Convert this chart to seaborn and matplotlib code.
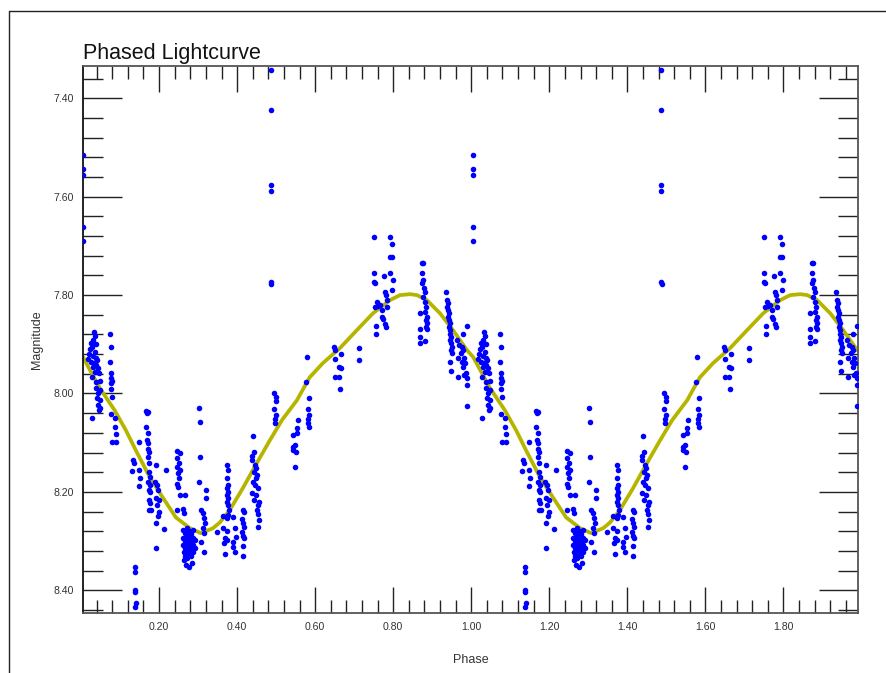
import numpy as np
import pandas as pd
import matplotlib
matplotlib.use("Agg")
import matplotlib.pyplot as plt
from matplotlib.ticker import FixedLocator, FixedFormatter, MultipleLocator
from matplotlib.lines import Line2D
import seaborn as sns

# Folded observations, one cycle: (phase, magnitude)
obs_spikes = [
    (0.005, 7.515), (0.005, 7.544), (0.005, 7.556), (0.005, 7.662), (0.005, 7.690),
    (0.487, 7.342), (0.487, 7.424), (0.487, 7.576), (0.487, 7.589), (0.487, 7.774), (0.488, 7.778),
]
obs_early = [
    (0.033, 7.875), (0.035, 7.884), (0.030, 7.892), (0.025, 7.898), (0.038, 7.900),
    (0.027, 7.906), (0.022, 7.910), (0.035, 7.916), (0.020, 7.920), (0.030, 7.924),
    (0.038, 7.928), (0.018, 7.930), (0.040, 7.932), (0.025, 7.936), (0.033, 7.938),
    (0.038, 7.942), (0.030, 7.946), (0.043, 7.948), (0.035, 7.957), (0.045, 7.959),
    (0.027, 7.967), (0.048, 7.975), (0.038, 7.977), (0.038, 7.989), (0.048, 7.993),
    (0.043, 7.999), (0.040, 8.010), (0.048, 8.014), (0.043, 8.024), (0.048, 8.030),
    (0.045, 8.034), (0.027, 8.050),
    (0.074, 7.880), (0.076, 7.906), (0.074, 7.936), (0.076, 7.959), (0.076, 7.969),
    (0.079, 7.975), (0.076, 7.979), (0.076, 7.991), (0.079, 8.007), (0.076, 8.042),
    (0.086, 8.050), (0.086, 8.068), (0.089, 8.083), (0.079, 8.099), (0.089, 8.099),
]
obs_descent = [
    (0.148, 8.099), (0.133, 8.135), (0.135, 8.142), (0.130, 8.158), (0.148, 8.156),
    (0.151, 8.172), (0.148, 8.188),
    (0.138, 8.353), (0.138, 8.363), (0.138, 8.400), (0.138, 8.404), (0.140, 8.426), (0.138, 8.434),
    (0.166, 8.036), (0.171, 8.038), (0.168, 8.040), (0.166, 8.068), (0.171, 8.081),
    (0.168, 8.095), (0.171, 8.101), (0.171, 8.113), (0.174, 8.119), (0.171, 8.129),
    (0.174, 8.142), (0.174, 8.160), (0.176, 8.170), (0.171, 8.180), (0.176, 8.186),
    (0.174, 8.197), (0.176, 8.201), (0.174, 8.217), (0.176, 8.223), (0.174, 8.237),
    (0.179, 8.237),
    (0.192, 8.146), (0.218, 8.156), (0.189, 8.180), (0.194, 8.186), (0.197, 8.197),
    (0.192, 8.213), (0.199, 8.217), (0.194, 8.227), (0.199, 8.241), (0.197, 8.249),
    (0.192, 8.264), (0.212, 8.276), (0.192, 8.315),
    (0.245, 8.117), (0.253, 8.121), (0.245, 8.131), (0.250, 8.142), (0.245, 8.150),
    (0.253, 8.156), (0.248, 8.162), (0.250, 8.172), (0.245, 8.184), (0.248, 8.190),
    (0.253, 8.207), (0.266, 8.207), (0.245, 8.237), (0.261, 8.235), (0.263, 8.243),
]
obs_minimum = [
    (0.261, 8.278), (0.261, 8.294), (0.261, 8.308), (0.263, 8.323), (0.263, 8.339),
    (0.266, 8.284), (0.266, 8.300), (0.266, 8.315), (0.266, 8.331), (0.268, 8.349),
    (0.271, 8.274), (0.271, 8.290), (0.271, 8.306), (0.271, 8.321), (0.271, 8.335),
    (0.276, 8.280), (0.276, 8.296), (0.276, 8.310), (0.276, 8.325), (0.276, 8.353),
    (0.281, 8.286), (0.281, 8.300), (0.281, 8.317), (0.281, 8.331), (0.284, 8.345),
    (0.286, 8.278), (0.286, 8.294), (0.286, 8.308), (0.286, 8.323),
    (0.292, 8.298), (0.292, 8.315),
    (0.302, 8.030), (0.304, 8.058), (0.304, 8.129), (0.302, 8.180), (0.320, 8.197),
    (0.320, 8.213), (0.307, 8.237), (0.312, 8.243), (0.315, 8.254), (0.317, 8.264),
    (0.312, 8.274), (0.315, 8.284), (0.307, 8.302), (0.315, 8.323),
]
obs_rise = [
    (0.348, 8.282), (0.363, 8.249), (0.363, 8.274), (0.368, 8.294), (0.366, 8.304),
    (0.373, 8.298), (0.368, 8.327), (0.373, 8.280),
    (0.373, 8.146), (0.376, 8.156), (0.373, 8.172), (0.376, 8.186), (0.373, 8.192),
    (0.376, 8.201), (0.373, 8.207), (0.376, 8.213), (0.373, 8.221), (0.376, 8.227),
    (0.378, 8.237), (0.376, 8.247), (0.373, 8.254),
    (0.389, 8.252), (0.394, 8.274), (0.397, 8.292), (0.389, 8.302), (0.389, 8.312), (0.394, 8.323),
    (0.415, 8.237), (0.417, 8.241), (0.412, 8.256), (0.415, 8.264), (0.417, 8.272),
    (0.412, 8.282), (0.415, 8.290), (0.417, 8.294), (0.415, 8.310), (0.415, 8.331),
    (0.441, 8.087), (0.443, 8.119), (0.438, 8.127), (0.438, 8.135), (0.445, 8.146),
    (0.448, 8.152), (0.443, 8.160), (0.451, 8.166), (0.448, 8.172), (0.441, 8.180),
    (0.445, 8.186), (0.453, 8.192), (0.438, 8.203), (0.448, 8.207), (0.443, 8.217),
    (0.456, 8.221), (0.453, 8.227), (0.451, 8.237), (0.453, 8.245), (0.456, 8.258),
    (0.453, 8.272),
    (0.494, 7.999), (0.499, 8.007), (0.499, 8.016), (0.494, 8.032), (0.499, 8.044),
    (0.497, 8.052), (0.497, 8.060),
    (0.556, 8.054), (0.553, 8.071), (0.543, 8.085), (0.553, 8.081), (0.548, 8.105),
    (0.543, 8.109), (0.543, 8.115), (0.551, 8.119), (0.548, 8.150),
    (0.579, 7.926), (0.577, 7.977), (0.584, 8.010), (0.581, 8.032), (0.584, 8.044),
    (0.581, 8.052), (0.581, 8.060), (0.584, 8.068),
]
obs_maximum = [
    (0.648, 7.906), (0.650, 7.912), (0.650, 7.930), (0.650, 7.967), (0.661, 7.967),
    (0.663, 7.991), (0.661, 7.946), (0.666, 7.920), (0.666, 7.948),
    (0.712, 7.908), (0.712, 7.932),
    (0.751, 7.682), (0.751, 7.755), (0.751, 7.774), (0.753, 7.776), (0.776, 7.761),
    (0.779, 7.794), (0.781, 7.800), (0.784, 7.810), (0.758, 7.814), (0.753, 7.824),
    (0.761, 7.822), (0.766, 7.820), (0.771, 7.831), (0.784, 7.824), (0.771, 7.845),
    (0.774, 7.849), (0.781, 7.865), (0.779, 7.859), (0.756, 7.863), (0.756, 7.878),
    (0.792, 7.682), (0.797, 7.696), (0.797, 7.723), (0.792, 7.723), (0.792, 7.755),
    (0.799, 7.770), (0.797, 7.790),
    (0.874, 7.735), (0.876, 7.735), (0.874, 7.755), (0.876, 7.770), (0.874, 7.776),
    (0.879, 7.786), (0.881, 7.794), (0.876, 7.804), (0.881, 7.814), (0.884, 7.824),
    (0.881, 7.835), (0.886, 7.845), (0.884, 7.851), (0.886, 7.857), (0.884, 7.865),
    (0.886, 7.869), (0.868, 7.837), (0.868, 7.869), (0.868, 7.886), (0.868, 7.898),
    (0.881, 7.894),
]
obs_fall = [
    (0.935, 7.794), (0.937, 7.810), (0.940, 7.816), (0.937, 7.824), (0.940, 7.831),
    (0.942, 7.837), (0.940, 7.845), (0.942, 7.851), (0.945, 7.857), (0.942, 7.865),
    (0.945, 7.871), (0.945, 7.878), (0.947, 7.886), (0.945, 7.892), (0.947, 7.898),
    (0.950, 7.906), (0.947, 7.912), (0.950, 7.918), (0.945, 7.936), (0.947, 7.955),
    (0.989, 7.863), (0.979, 7.880), (0.963, 7.892), (0.968, 7.902), (0.976, 7.906),
    (0.979, 7.912), (0.974, 7.918), (0.966, 7.928), (0.981, 7.928), (0.976, 7.936),
    (0.984, 7.938), (0.979, 7.946), (0.986, 7.959), (0.981, 7.963), (0.966, 7.967),
    (0.989, 7.969), (0.989, 7.983), (0.989, 8.026),
]

# Fitted light curve over one cycle
fit_phase = [0.005, 0.048, 0.086, 0.115, 0.140, 0.176, 0.209, 0.243, 0.279, 0.307,
             0.338, 0.356, 0.381, 0.415, 0.450, 0.484, 0.515, 0.553, 0.586, 0.620,
             0.663, 0.707, 0.748, 0.792, 0.817, 0.843, 0.861, 0.886, 0.920, 0.953, 0.989]
fit_mag = [7.926, 7.989, 8.034, 8.075, 8.115, 8.170, 8.211, 8.252, 8.274, 8.284,
           8.274, 8.262, 8.237, 8.192, 8.142, 8.095, 8.054, 8.014, 7.967, 7.938,
           7.908, 7.871, 7.837, 7.810, 7.800, 7.798, 7.800, 7.810, 7.837, 7.871, 7.912]

x_ticks = [0.20, 0.40, 0.60, 0.80, 1.00, 1.20, 1.40, 1.60, 1.80]
x_labels = ["0.20", "0.40", "0.60", "0.80", "1.00", "1.20", "1.40", "1.60", "1.80"]
y_ticks = [7.40, 7.60, 7.80, 8.00, 8.20, 8.40]
y_labels = ["7.40", "7.60", "7.80", "8.00", "8.20", "8.40"]

# Build tables: every observation and the fit are shown over two cycles
obs = obs_spikes + obs_early + obs_descent + obs_minimum + obs_rise + obs_maximum + obs_fall
ph = np.array([p for p, _ in obs])
mg = np.array([m for _, m in obs])
points = pd.DataFrame({"Phase": np.concatenate([ph, ph + 1.0]),
                       "Magnitude": np.concatenate([mg, mg])})
fp = np.array(fit_phase)
fm = np.array(fit_mag)
fit = pd.DataFrame({"Phase": np.concatenate([fp, fp + 1.0]),
                    "Magnitude": np.concatenate([fm, fm])})

sns.set_theme(style="white")
plt.rcParams["font.family"] = ["Liberation Sans", "DejaVu Sans"]

W, H = 887, 673
fig = plt.figure(figsize=(W / 100, H / 100), dpi=100)
fig.patch.set_facecolor("white")
ax = fig.add_axes([83 / W, 1 - 613.3 / H, 775 / W, 547.3 / H])
ax.set_facecolor("white")

sns.lineplot(data=fit, x="Phase", y="Magnitude", ax=ax, color="#b5b500",
             lw=2.7, sort=False, estimator=None, zorder=2)
sns.scatterplot(data=points, x="Phase", y="Magnitude", ax=ax, color="#0000ff",
                s=16, linewidth=0, zorder=3)

ax.set_xlim(0.005, 1.991)
ax.set_ylim(8.447, 7.334)

ax.xaxis.set_major_locator(FixedLocator(x_ticks))
ax.xaxis.set_major_formatter(FixedFormatter(x_labels))
ax.yaxis.set_major_locator(FixedLocator(y_ticks))
ax.yaxis.set_major_formatter(FixedFormatter(y_labels))
ax.xaxis.set_minor_locator(MultipleLocator(0.04))
ax.yaxis.set_minor_locator(MultipleLocator(0.04))

ax.tick_params(which="both", direction="in", top=True, right=True,
               bottom=True, left=True, color="#222222", width=1.0,
               labelsize=7.6, labelcolor="#333333", pad=6.5)
ax.tick_params(axis="x", which="major", length=19)
ax.tick_params(axis="x", which="minor", length=9.4)
ax.tick_params(axis="y", which="major", length=28)
ax.tick_params(axis="y", which="minor", length=14.4)

for side, sp in ax.spines.items():
    sp.set_visible(True)
    sp.set_color("#555555")
    sp.set_linewidth(1.3)
ax.spines["left"].set_color("#111111")

ax.set_xlabel("Phase", fontsize=9, color="#333333")
ax.set_ylabel("Magnitude", fontsize=9, color="#333333")
ax.xaxis.set_label_coords(0.5, -0.074)
ax.yaxis.set_label_coords(-0.051, 0.5)

fig.text(83 / W, 1 - 59.5 / H, "Phased Lightcurve", fontsize=15.5,
         ha="left", va="baseline", color="#111111")

# Outer frame edges
fx, fy = 9.3 / W, 1 - 10.7 / H
fig.add_artist(Line2D([fx, 1.0], [fy, fy], color="#222222", lw=1.0))
fig.add_artist(Line2D([fx, fx], [0.0, fy], color="#222222", lw=1.0))

fig.savefig("out.png", dpi=100)
